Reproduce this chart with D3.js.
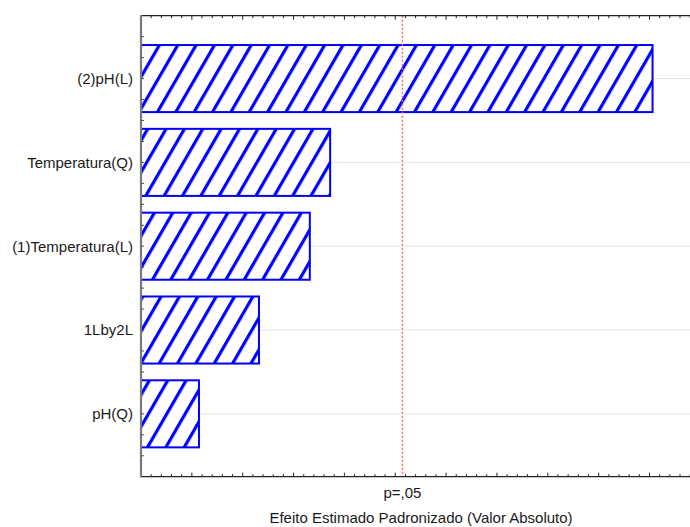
<!DOCTYPE html>
<html>
<head>
<meta charset="utf-8">
<script src="https://cdn.jsdelivr.net/npm/d3@7"></script>
<style>
  html, body { margin: 0; padding: 0; background: #fff; }
  svg { display: block; font-family: "Liberation Sans", Arial, sans-serif; }
</style>
</head>
<body>
<svg id="chart" width="690" height="527"></svg>
<script>
// Pareto chart of standardized effects
const categories = ["(2)pH(L)", "Temperatura(Q)", "(1)Temperatura(L)", "1Lby2L", "pH(Q)"];
const effects = [5.03, 1.86, 1.66, 1.16, 0.57];
const pCritical = 2.5706;          // t(0.025; 5 df)
const pLabel = "p=,05";
const xTitle = "Efeito Estimado Padronizado (Valor Absoluto)";

const svg = d3.select("#chart");
const plotLeft = 141, plotTop = 15.7, plotBottom = 476.7;

const x = d3.scaleLinear().domain([0, 5.5]).range([plotLeft, plotLeft + 5.5 * 101.7]);
const y = d3.scaleBand().domain(categories).range([plotTop, plotBottom])
  .paddingInner(0.2).paddingOuter(0.35);
const yPos = d3.scaleLinear().domain([0.25, 5.75]).range([plotTop, plotBottom]);

// hatch pattern
const defs = svg.append("defs");
const pat = defs.append("pattern")
  .attr("id", "hatch")
  .attr("patternUnits", "userSpaceOnUse")
  .attr("width", 15.9).attr("height", 20)
  .attr("patternTransform", "rotate(30)");
pat.append("rect").attr("width", 15.9).attr("height", 20).attr("fill", "#fff");
pat.append("rect").attr("x", 0).attr("y", 0).attr("width", 3.2).attr("height", 20).attr("fill", "#0000ff");

// horizontal grid lines at category centres
svg.append("g").selectAll("line").data(categories).join("line")
  .attr("x1", plotLeft).attr("x2", 690)
  .attr("y1", d => y(d) + y.bandwidth() / 2)
  .attr("y2", d => y(d) + y.bandwidth() / 2)
  .attr("stroke", "#e4e4e4").attr("stroke-width", 1);

// bars
svg.append("g").selectAll("rect").data(categories).join("rect")
  .attr("x", x(0))
  .attr("y", d => y(d))
  .attr("width", (d, i) => x(effects[i]) - x(0))
  .attr("height", y.bandwidth())
  .attr("fill", "url(#hatch)")
  .attr("stroke", "#0000ff").attr("stroke-width", 2);

// significance line
svg.append("line")
  .attr("x1", x(pCritical)).attr("x2", x(pCritical))
  .attr("y1", plotTop).attr("y2", plotBottom)
  .attr("stroke", "#ff6a6a").attr("stroke-width", 1.5)
  .attr("stroke-dasharray", "2,2");

// top and bottom axes with inward ticks
const ticks = d3.range(0, 56).map(i => i / 10);
const isMajor = v => Math.abs(v * 2 - Math.round(v * 2)) < 1e-6;
const axisG = svg.append("g");
[plotTop, plotBottom].forEach((yy, k) => {
  axisG.append("line").attr("x1", plotLeft).attr("x2", 690)
    .attr("y1", yy).attr("y2", yy).attr("stroke", "#222").attr("stroke-width", 1.3);
  axisG.append("g").selectAll("line").data(ticks.filter(v => v > 0)).join("line")
    .attr("x1", d => x(d)).attr("x2", d => x(d))
    .attr("y1", yy)
    .attr("y2", d => yy + (k === 0 ? 1 : -1) * (isMajor(d) ? 4 : 2.5))
    .attr("stroke", "#222").attr("stroke-width", 1);
});

// left axis
svg.append("line").attr("x1", plotLeft).attr("x2", plotLeft)
  .attr("y1", plotTop - 0.7).attr("y2", plotBottom + 0.7)
  .attr("stroke", "#7a7a7a").attr("stroke-width", 2.2);
svg.append("g").selectAll("line").data(d3.range(2, 23).map(i => i / 4)).join("line")
  .attr("x1", plotLeft).attr("x2", plotLeft + 3)
  .attr("y1", d => yPos(d)).attr("y2", d => yPos(d))
  .attr("stroke", "#555").attr("stroke-width", 1);

// category labels
svg.append("g").selectAll("text").data(categories).join("text")
  .attr("x", 133)
  .attr("y", d => y(d) + y.bandwidth() / 2)
  .attr("dy", "0.36em")
  .attr("text-anchor", "end")
  .attr("font-size", 15)
  .attr("fill", "#1a1a1a")
  .text(d => d);

svg.append("text")
  .attr("x", x(pCritical)).attr("y", 498)
  .attr("text-anchor", "middle").attr("font-size", 15).attr("fill", "#1a1a1a")
  .text(pLabel);

svg.append("text")
  .attr("x", 421).attr("y", 523)
  .attr("text-anchor", "middle").attr("font-size", 15).attr("fill", "#1a1a1a")
  .text(xTitle);
</script>
</body>
</html>
